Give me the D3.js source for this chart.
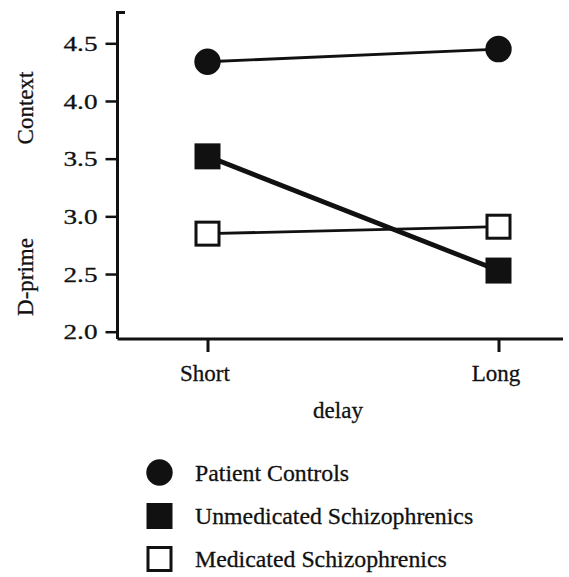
<!DOCTYPE html>
<html><head><meta charset="utf-8">
<script src="https://cdn.jsdelivr.net/npm/d3@7"></script>
<style>body{margin:0;background:#fff}svg{display:block}</style>
</head><body>
<script>
const categories = ["Short", "Long"];
const yTicks = [2.0, 2.5, 3.0, 3.5, 4.0, 4.5];
const seriesNames = ["Patient Controls", "Unmedicated Schizophrenics", "Medicated Schizophrenics"];
const patientControls = [4.34, 4.45];
const unmedicated = [3.52, 2.53];
const medicated = [2.85, 2.91];

const FONT = "'Liberation Serif', 'Times New Roman', serif";
const INK = "#111";
const W = 569, H = 577;
const svg = d3.select("body").append("svg").attr("width", W).attr("height", H);

const y = d3.scaleLinear().domain([2.0, 4.5]).range([331.7, 43.3]);
const x = d3.scalePoint().domain(categories).range([207.5, 498.5]);
const axX = 117.5, axY = 339;

// y axis line with cap at top
svg.append("path").attr("d", `M125,12.5 H${axX} V${axY}`).attr("fill", "none").attr("stroke", INK).attr("stroke-width", 3);
// x axis line
svg.append("line").attr("x1", axX).attr("x2", 563).attr("y1", axY).attr("y2", axY).attr("stroke", INK).attr("stroke-width", 3);

function ink(t) { return t.attr("fill", INK).attr("stroke", INK).attr("stroke-width", 0.3).style("font-family", FONT); }

const yAxis = d3.axisLeft(y).tickValues(yTicks).tickFormat(d3.format(".1f")).tickSize(12).tickPadding(8);
const gy = svg.append("g").attr("transform", `translate(${axX},0)`).call(yAxis);
gy.select(".domain").remove();
gy.selectAll(".tick line").attr("stroke", INK).attr("stroke-width", 2.5);
ink(gy.selectAll(".tick text").attr("font-size", 22))
  .attr("textLength", 34).attr("lengthAdjust", "spacingAndGlyphs");

const xAxis = d3.axisBottom(x).tickSize(13).tickPadding(13);
const gx = svg.append("g").attr("transform", `translate(0,${axY})`).call(xAxis);
gx.select(".domain").remove();
gx.selectAll(".tick line").attr("stroke", INK).attr("stroke-width", 3);
ink(gx.selectAll(".tick text").attr("font-size", 23).attr("dx", -3));

function label(t, fs) { return ink(t.attr("font-size", fs || 23)); }
label(svg.append("text").attr("x", 338).attr("y", 418).attr("text-anchor", "middle").text("delay"));
label(svg.append("text").attr("transform", "translate(33,108) rotate(-90)").attr("text-anchor", "middle").text("Context"));
label(svg.append("text").attr("transform", "translate(33,277) rotate(-90)").attr("text-anchor", "middle").text("D-prime"));

const series = [
  {name: seriesNames[0], vals: patientControls, shape: "circle", fill: INK, lw: 2.8},
  {name: seriesNames[1], vals: unmedicated, shape: "square", fill: INK, lw: 4.8},
  {name: seriesNames[2], vals: medicated, shape: "square", fill: "#fff", lw: 2.8}
];
const line = d3.line().x((d, i) => x(categories[i])).y(d => y(d));

series.forEach(s => {
  svg.append("path").attr("d", line(s.vals)).attr("fill", "none").attr("stroke", INK).attr("stroke-width", s.lw);
});
function marker(g, shape, fill, cx, cy) {
  if (shape === "circle") {
    g.append("circle").attr("cx", cx).attr("cy", cy).attr("r", 13.2).attr("fill", fill);
  } else if (fill === "#fff") {
    g.append("rect").attr("x", cx - 11.5).attr("y", cy - 11.5).attr("width", 23).attr("height", 23).attr("fill", "#fff").attr("stroke", INK).attr("stroke-width", 3);
  } else {
    g.append("rect").attr("x", cx - 13).attr("y", cy - 13).attr("width", 26).attr("height", 26).attr("fill", fill);
  }
}
series.forEach(s => {
  s.vals.forEach((v, i) => marker(svg, s.shape, s.fill, x(categories[i]), y(v)));
});

// legend
const legY = [472.5, 516, 559];
series.forEach((s, i) => {
  marker(svg, s.shape, s.fill, 159.5, legY[i]);
  label(svg.append("text").attr("x", 195).attr("y", legY[i] + 8).text(s.name), 23.8);
});
</script>
</body></html>
